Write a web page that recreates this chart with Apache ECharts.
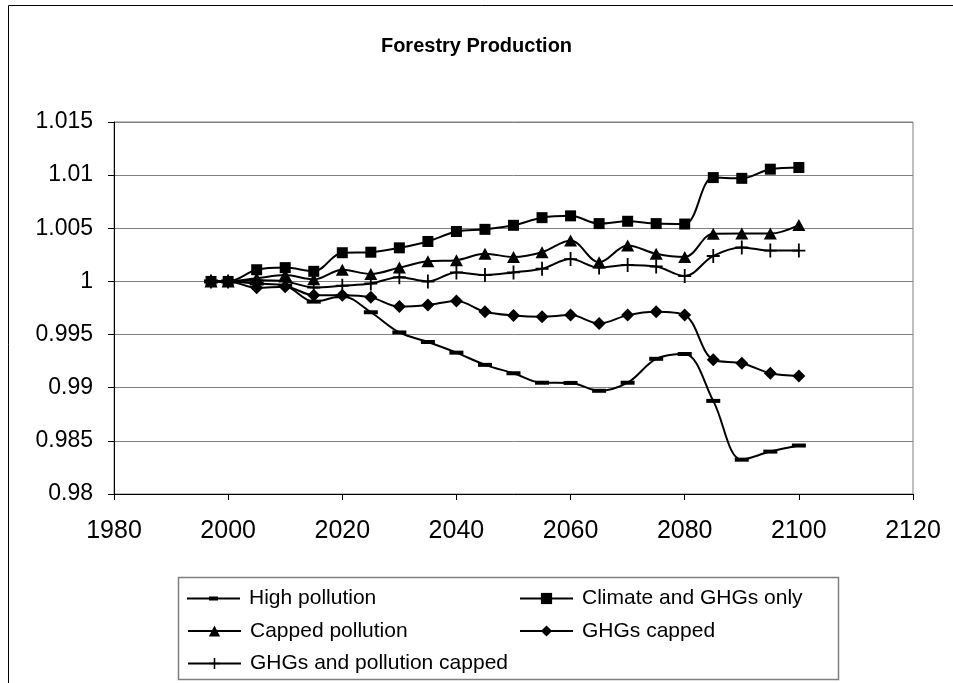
<!DOCTYPE html>
<html><head><meta charset="utf-8">
<script src="https://cdn.jsdelivr.net/npm/echarts@6/dist/echarts.min.js"></script>
<style>html,body{margin:0;padding:0;background:#fff}#c{width:953px;height:683px}</style>
</head><body><div id="c"></div>
<script>
const years = [1997,2000,2005,2010,2015,2020,2025,2030,2035,2040,2045,2050,2055,2060,2065,2070,2075,2080,2085,2090,2095,2100];
const highPollution = [1,1,0.9998,0.9996,0.9981,0.9986,0.9971,0.9952,0.9943,0.9933,0.99215,0.99136,0.99047,0.99045,0.98971,0.99047,0.99272,0.99317,0.98876,0.98323,0.98399,0.98456];
const climateGHGs = [1,1,1.0011,1.0013,1.00095,1.0027,1.00275,1.00316,1.00376,1.0047,1.0049,1.00528,1.006,1.00617,1.00544,1.00566,1.00544,1.0054,1.00977,1.0097,1.01056,1.01072];
const cappedPollution = [1,1,1.0003,1.0006,1.0002,1.0011,1.0007,1.0013,1.0019,1.002,1.0026,1.0023,1.00275,1.00385,1.0018,1.00338,1.0026,1.0023,1.00449,1.0045,1.0045,1.0053];
const ghgsCapped = [1,1,0.9994,0.9995,0.9987,0.9987,0.9985,0.99763,0.99778,0.99816,0.99715,0.9968,0.99668,0.99683,0.99604,0.99683,0.99715,0.99683,0.99263,0.99231,0.99136,0.99111];
const ghgsPollutionCapped = [1,1,1.0001,1.0,0.99943,0.9996,0.9998,1.0004,1.0,1.00085,1.0006,1.00085,1.0012,1.0021,1.0013,1.00155,1.0014,1.0005,1.0024,1.0032,1.0029,1.0029];
const seriesNames = ['High pollution','Climate and GHGs only','Capped pollution','GHGs capped','GHGs and pollution capped'];
const xTicks = {min:1980,max:2120,interval:20};
const yTicks = {min:0.98,max:1.015,interval:0.005};

const plusPath = 'path://M4.3,0 H5.7 V4.3 H10 V5.7 H5.7 V10 H4.3 V5.7 H0 V4.3 H4.3 Z';
const defs = [
  {name:seriesNames[0], data:highPollution, symbol:'rect', symbolSize:[14,4]},
  {name:seriesNames[1], data:climateGHGs, symbol:'rect', symbolSize:11},
  {name:seriesNames[2], data:cappedPollution, symbol:'triangle', symbolSize:[13,12]},
  {name:seriesNames[3], data:ghgsCapped, symbol:'diamond', symbolSize:[13,13]},
  {name:seriesNames[4], data:ghgsPollutionCapped, symbol:plusPath, symbolSize:[13,14]}
];
const series = defs.map(d => ({
  name:d.name, type:'line', smooth:0.35, symbol:d.symbol, symbolSize:d.symbolSize,
  showAllSymbol:true, animation:false,
  lineStyle:{color:'#000',width:2}, itemStyle:{color:'#000',borderWidth:0},
  emphasis:{disabled:true},
  data: years.map((y,i)=>[y,d.data[i]])
}));
const font = '"Liberation Sans", Arial, sans-serif';
function leg(item, left, cy, h){
  const ih = h || 14;
  return {show:true, data:[item], left:left, top:cy-7, orient:'vertical', itemWidth:53, itemHeight:ih,
    itemGap:0, padding:0, selectedMode:false, symbolKeepAspect:false,
    textStyle:{fontFamily:font, fontSize:21, color:'#000', lineHeight:14, padding:[0,0,0,4]}};
}
const chart = echarts.init(document.getElementById('c'), null, {renderer:'canvas'});
chart.setOption({
  backgroundColor:'#fff',
  animation:false,
  title:{text:'Forestry Production', left:'center', top:31,
    textStyle:{fontFamily:font, fontSize:20, fontWeight:'bold', color:'#000'}},
  grid:{left:114, right:40, top:122, bottom:189, show:true, borderColor:'#808080', borderWidth:1, backgroundColor:'#fff'},
  xAxis:{type:'value', min:xTicks.min, max:xTicks.max, interval:xTicks.interval,
    axisLine:{lineStyle:{color:'#000',width:1}}, axisTick:{show:true,inside:false,length:6,lineStyle:{color:'#000'}},
    splitLine:{show:false},
    axisLabel:{fontFamily:font, fontSize:25, color:'#000', margin:25, formatter:v=>String(v)}},
  yAxis:{type:'value', min:yTicks.min, max:yTicks.max, interval:yTicks.interval,
    axisLine:{show:true,lineStyle:{color:'#000',width:1}}, axisTick:{show:true,inside:false,length:6,lineStyle:{color:'#000'}},
    splitLine:{show:true,lineStyle:{color:'#808080',width:1}},
    axisLabel:{fontFamily:font, fontSize:23, color:'#000', margin:21,
      formatter:v=>String(parseFloat(v.toFixed(3)))}},
  legend:[
    leg({name:seriesNames[0], icon:'path://M0,1 H53 V3 H0 Z M22,0 H31 V4 H22 Z'},187,595,4),
    leg(seriesNames[2],187,627.5),
    leg(seriesNames[4],187,660),
    leg(seriesNames[1],519,595),
    leg(seriesNames[3],519,627.5)
  ],
  graphic:[
    {type:'rect', shape:{x:8.5,y:5.5,width:1200,height:1200}, style:{fill:'none',stroke:'#000',lineWidth:1}, z:-10, silent:true},
    {type:'rect', shape:{x:178.5,y:577.5,width:660,height:102}, style:{fill:'none',stroke:'#808080',lineWidth:1.5}, silent:true}
  ],
  series:series
});
</script></body></html>
